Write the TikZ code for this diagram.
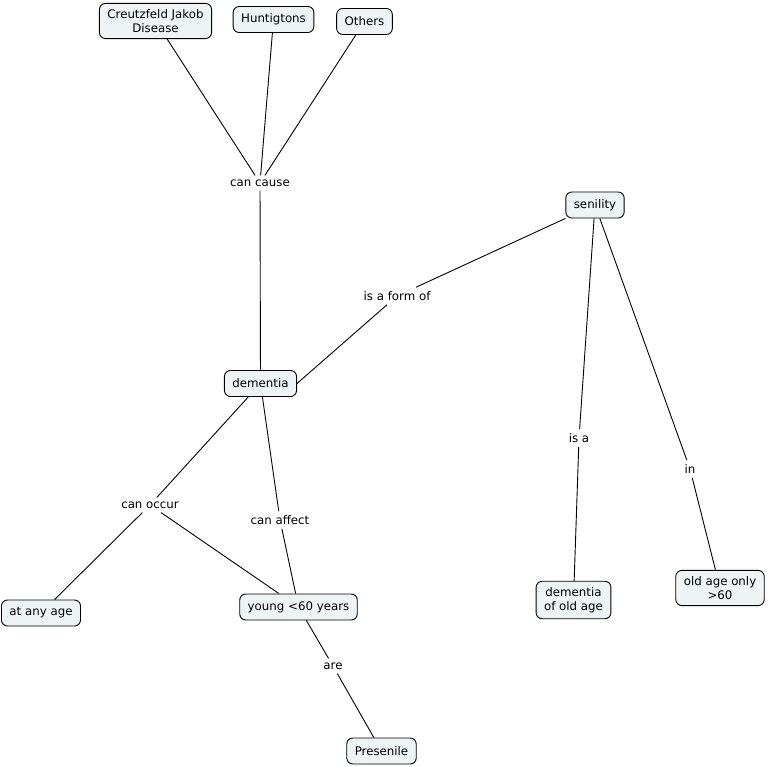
\documentclass[tikz,border=0pt]{standalone}
\usepackage{fontspec}
\setmainfont{DejaVu Sans}
\definecolor{boxfill}{RGB}{238,243,245}
\begin{document}
\begin{tikzpicture}[x=1pt,y=-1pt,
  concept/.style={draw=black, line width=0.9pt, rounded corners=6pt, fill=boxfill,
    inner xsep=8pt, inner ysep=6pt, minimum height=26pt, align=center,
    font=\fontsize{11.8}{14}\selectfont},
  linklabel/.style={inner xsep=3pt, inner ysep=4pt, font=\fontsize{11.8}{14}\selectfont},
  conn/.style={draw=black, line width=0.9pt}]
\useasboundingbox (0,0) rectangle (767,767);
\fill[white] (0,0) rectangle (767,767);
% concepts
\node[concept] (cjd) at (155.5,21) {Creutzfeld Jakob\\Disease};
\node[concept] (hun) at (273.5,19.5) {Huntigtons};
\node[concept] (oth) at (364.5,21.5) {Others};
\node[concept] (dem) at (260.5,383.5) {dementia};
\node[concept] (sen) at (595,205) {senility};
\node[concept] (doa) at (573.5,600) {dementia\\of old age};
\node[concept] (oao) at (720,588) {old age only\\>60};
\node[concept] (any) at (41,613) {at any age};
\node[concept] (yng) at (298.5,607) {young <60 years};
\node[concept] (pre) at (381.5,751) {Presenile};
% link labels
\node[linklabel] (cc) at (260,183) {can cause};
\node[linklabel] (iaf) at (397,296) {is a form of};
\node[linklabel] (isa) at (579,438) {is a};
\node[linklabel] (in) at (690,469) {in};
\node[linklabel] (co) at (150,505) {can occur};
\node[linklabel] (ca) at (280,520) {can affect};
\node[linklabel] (are) at (333,666) {are};
% connectors
\draw[conn] (cjd) -- (cc);
\draw[conn] (hun) -- (cc);
\draw[conn] (oth) -- (cc);
\draw[conn] (cc) -- (dem);
\draw[conn] (dem.east) -- (iaf);
\draw[conn] (iaf) -- (sen.south west);
\draw[conn] (sen) -- (isa);
\draw[conn] (isa) -- (doa);
\draw[conn] (sen) -- (in);
\draw[conn] (in) -- (oao);
\draw[conn] (dem) -- (co);
\draw[conn] (co) -- (any);
\draw[conn] (co) -- (yng);
\draw[conn] (dem) -- (ca);
\draw[conn] (ca) -- (yng);
\draw[conn] (yng) -- (are);
\draw[conn] (are) -- (pre);
\end{tikzpicture}
\end{document}
